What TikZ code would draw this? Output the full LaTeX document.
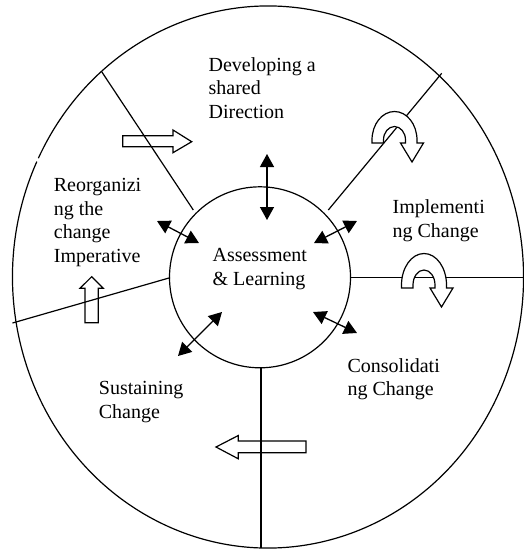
\documentclass[tikz,border=0pt]{standalone}
\usepackage{fontspec}
\setmainfont{Liberation Serif}
\usetikzlibrary{arrows.meta,calc}
% U-turn block arrow: #1 centre of the arcs, #2 outer and #3 inner vertical radius
\newcommand\uturnarrow[3]{%
  \draw[blockarrow,shift={(#1)}]
    (-22.5,3) -- (-22.5,0)
    arc[start angle=180,end angle=360,x radius=22.5,y radius=#2]
    -- (22.5,3) -- (29,3) -- (17.5,22) -- (6,3) -- (11,3) -- (11,0)
    arc[start angle=0,end angle=-180,x radius=11,y radius=#3]
    -- (-11,3) -- cycle;}
\begin{document}
\begin{tikzpicture}[x=1pt,y=-1pt,
  line width=1.2pt,
  % labels are placed by the baseline of their last line
  label/.style={inner sep=0pt,font=\fontsize{20}{23.4}\selectfont,align=left,anchor=base west},
  exchange/.style={{Triangle[length=13pt,width=14pt]}-{Triangle[length=13pt,width=14pt]},line width=1.3pt},
  blockarrow/.style={draw,fill=white,line width=1.2pt,line join=miter},
]
\useasboundingbox (0,0) rectangle (524,550);

% outer ring, with its small break on the left
\begin{scope}
  \clip (0,0) rectangle (524,550);
  \coordinate (O) at (268,277);
  \draw ($(O)+(206:255.5 and 271)$)
    arc[start angle=206,end angle=565.2,x radius=255.5,y radius=271];
\end{scope}

% inner circle
\node[circle,draw,minimum size=181pt,inner sep=0pt] (core) at (260,277.3) {};

% straight block arrows between the stages
\draw[blockarrow] (122.7,135.7) -- (173,135.7) -- (173,130) -- (191.7,141.7)
  -- (173,152.7) -- (173,146.7) -- (122.7,146.7) -- cycle;
\draw[blockarrow] (85,322.7) -- (85,288.3) -- (80,288.3) -- (91.7,276.7)
  -- (103.3,288.3) -- (98.3,288.3) -- (98.3,322.7) -- cycle;
\draw[blockarrow] (306,441) -- (238.3,441) -- (238.3,435.5) -- (216,447)
  -- (238.3,458.8) -- (238.3,452.8) -- (306,452.8) -- cycle;

% dividers between the stages
\draw (101.7,71.7) -- (193.3,210);
\draw (441.7,73.3) -- (328.3,210);
\draw (351,277.3) -- (524,277.3);
\draw (261,368) -- (261,548);
\draw (12.5,323) -- (170,277.7);

% U-turn arrows on the right-hand dividers
\uturnarrow{394.5,140}{28.5}{13.5}
\uturnarrow{424,285}{31.5}{15}

% exchanges with the core
\draw[exchange] (267,154) -- (267,220);
\draw[exchange] (157,221) -- (199,243);
\draw[exchange] (357,221) -- (314,243);
\draw[exchange] (313,312) -- (357,333);
\draw[exchange] (222,312) -- (178,356);

% stage labels
\node[label] (dev) at (208,118) {Developing a\\shared\\Direction};
\node[label] (reorg) at (53.3,262) {Reorganizi\\ng the\\change\\Imperative};
\node[label] (impl) at (392,237.2) {Implementi\\ng Change};
\node[label] (cons) at (347,395.5) {Consolidati\\ng Change};
\node[label] (sust) at (98.3,418.3) {Sustaining\\Change};
\node[label] (assess) at (212,285) {Assessment\\\& Learning};
\end{tikzpicture}
\end{document}
